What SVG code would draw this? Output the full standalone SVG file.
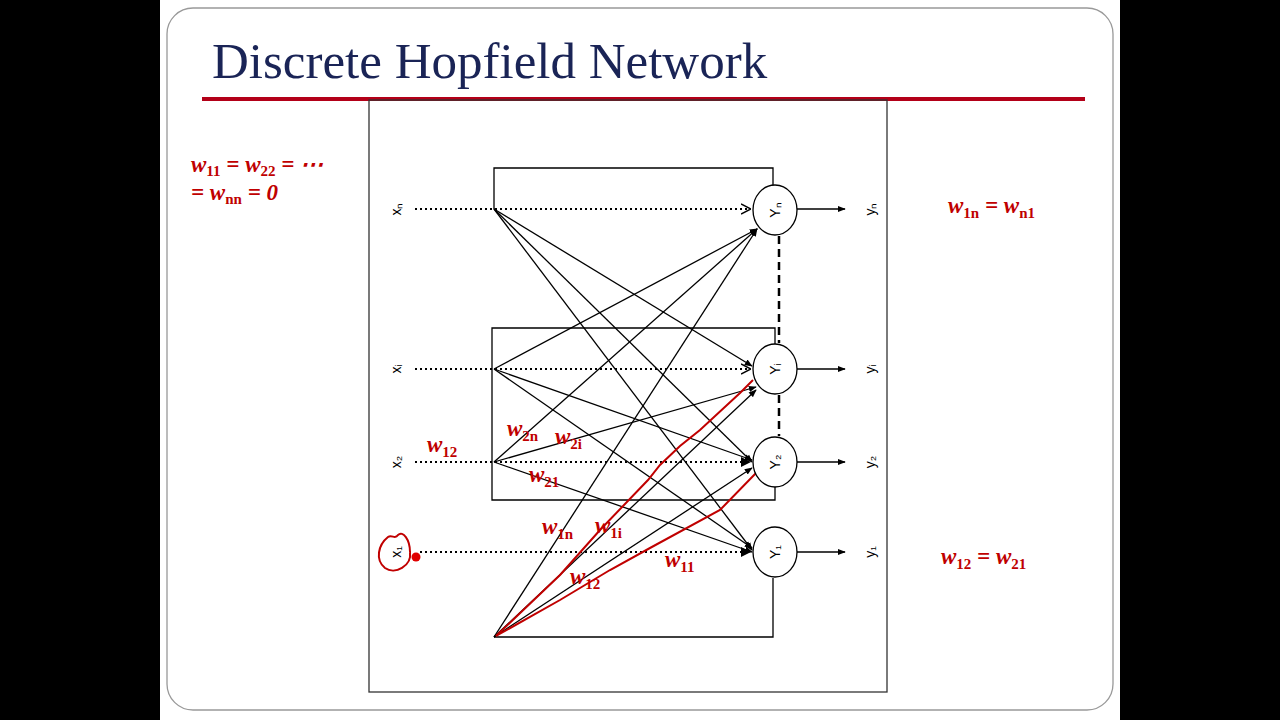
<svg xmlns="http://www.w3.org/2000/svg" width="1280" height="720" viewBox="0 0 1280 720">
<defs>
<style>
.ln{stroke:#000;stroke-width:1.3;fill:none}
.dot{stroke:#000;stroke-width:2;stroke-dasharray:2 3;fill:none}
.red{stroke:#c00000;stroke-width:2;fill:none}
.lab{font-family:"Liberation Sans",Arial,sans-serif;font-size:14px;fill:#000}
.w{font-family:"Liberation Serif",serif;font-weight:bold;font-style:italic;font-size:23px;fill:#c00000}
.s{font-size:15px;font-style:normal}
.nd{fill:#fff;stroke:#000;stroke-width:1.3}
</style>
<marker id="ar" viewBox="0 0 10 10" refX="9" refY="5" markerWidth="8" markerHeight="8" orient="auto" markerUnits="userSpaceOnUse"><path d="M0,1 L10,5 L0,9 z" fill="#000"/></marker>
<marker id="ar2" viewBox="0 0 10 10" refX="9" refY="5" markerWidth="10" markerHeight="10" orient="auto" markerUnits="userSpaceOnUse"><path d="M0,0 L10,5 L0,10 z" fill="#000"/></marker>
<marker id="op" viewBox="0 0 10 10" refX="9" refY="5" markerWidth="10" markerHeight="12" orient="auto" markerUnits="userSpaceOnUse"><path d="M0,0 L10,5 L0,10" fill="none" stroke="#000" stroke-width="1.5"/></marker>
</defs>
<rect width="1280" height="720" fill="#000"/>
<rect x="160" y="0" width="960" height="720" fill="#fff"/>
<rect x="167" y="8" width="946" height="702" rx="26" fill="#fff" stroke="#999" stroke-width="1.3"/>
<text x="212" y="78" font-family="Liberation Serif,serif" font-size="51" fill="#1a2456">Discrete Hopfield Network</text>
<line x1="202" y1="99" x2="1085" y2="99" stroke="#b30018" stroke-width="4"/>
<rect x="369" y="100" width="518" height="592" fill="none" stroke="#333" stroke-width="1.3"/>
<g id="connectors">
<path class="ln" d="M494,209 V168 H773 V186"/>
<path class="ln" d="M775,345 V328 H492 V500 H775 V486"/>
<path class="ln" d="M494,637 H773 V578"/>
<line class="dot" x1="415" y1="209" x2="750" y2="209" marker-end="url(#op)"/>
<line class="dot" x1="415" y1="369" x2="750" y2="369" marker-end="url(#op)"/>
<line class="dot" x1="415" y1="462" x2="750" y2="462" marker-end="url(#ar2)"/>
<line class="dot" x1="420" y1="552" x2="750" y2="552" marker-end="url(#ar2)"/>
<path d="M779,236 V343 M779,395 V436" stroke="#000" stroke-width="2.5" stroke-dasharray="8 5" fill="none"/>
<g class="ln">
<line x1="494" y1="209" x2="752" y2="366" marker-end="url(#ar)"/>
<line x1="494" y1="209" x2="752" y2="462" marker-end="url(#ar)"/>
<line x1="494" y1="209" x2="752" y2="550" marker-end="url(#ar)"/>
<line x1="494" y1="369" x2="757" y2="229" marker-end="url(#ar)"/>
<line x1="494" y1="369" x2="752" y2="460" marker-end="url(#ar)"/>
<line x1="494" y1="369" x2="752" y2="548" marker-end="url(#ar)"/>
<line x1="494" y1="462" x2="757" y2="229" marker-end="url(#ar)"/>
<line x1="494" y1="462" x2="756" y2="387" marker-end="url(#ar)"/>
<line x1="494" y1="462" x2="752" y2="552" marker-end="url(#ar)"/>
<line x1="494" y1="637" x2="757" y2="229" marker-end="url(#ar)"/>
<line x1="494" y1="637" x2="756" y2="390" marker-end="url(#ar)"/>
<line x1="494" y1="637" x2="752" y2="468" marker-end="url(#ar)"/>
<line x1="797" y1="209" x2="845" y2="209" marker-end="url(#ar)"/>
<line x1="797" y1="369" x2="845" y2="369" marker-end="url(#ar)"/>
<line x1="797" y1="462" x2="845" y2="462" marker-end="url(#ar)"/>
<line x1="797" y1="552" x2="845" y2="552" marker-end="url(#ar)"/>
</g>
<path class="red" d="M496,636 L560,575 L600,530 L648,480 L660,465 L680,446 L700,430 L740,393 L753,380"/>
<path class="red" d="M496,636 L560,600 L610,570 L650,548 L720,510 L757,472"/>
</g>
<g id="Yn"><ellipse class="nd" cx="775" cy="210" rx="22" ry="25"/><text class="lab" transform="translate(780,210) rotate(-90)" text-anchor="middle">Yₙ</text></g>
<g id="Yi"><ellipse class="nd" cx="775" cy="369" rx="22" ry="25"/><text class="lab" transform="translate(780,369) rotate(-90)" text-anchor="middle">Yᵢ</text></g>
<g id="Y2"><ellipse class="nd" cx="775" cy="462" rx="22" ry="25"/><text class="lab" transform="translate(780,462) rotate(-90)" text-anchor="middle">Y₂</text></g>
<g id="Y1"><ellipse class="nd" cx="775" cy="552" rx="22" ry="25"/><text class="lab" transform="translate(780,552) rotate(-90)" text-anchor="middle">Y₁</text></g>
<g id="labels">
<text class="lab" transform="translate(401,209) rotate(-90)" text-anchor="middle">xₙ</text>
<text class="lab" transform="translate(401,369) rotate(-90)" text-anchor="middle">xᵢ</text>
<text class="lab" transform="translate(401,462) rotate(-90)" text-anchor="middle">x₂</text>
<text class="lab" transform="translate(401,552) rotate(-90)" text-anchor="middle">x₁</text>
<text class="lab" transform="translate(875,209) rotate(-90)" text-anchor="middle">yₙ</text>
<text class="lab" transform="translate(875,369) rotate(-90)" text-anchor="middle">yᵢ</text>
<text class="lab" transform="translate(875,462) rotate(-90)" text-anchor="middle">y₂</text>
<text class="lab" transform="translate(875,552) rotate(-90)" text-anchor="middle">y₁</text>
</g>
<path class="red" d="M410,552 C412,566 395,575 385,568 C375,560 378,545 388,537 C392,534 395,540 398,535 C403,530 410,540 410,552"/>
<circle cx="416" cy="557" r="4.5" fill="#e00000"/>
<g id="weights">
<text class="w" x="191" y="172">w<tspan class="s" dy="4">11</tspan><tspan dy="-4"> = w</tspan><tspan class="s" dy="4">22</tspan><tspan dy="-4"> = ⋯</tspan></text>
<text class="w" x="191" y="200">= w<tspan class="s" dy="4">nn</tspan><tspan dy="-4"> = 0</tspan></text>
<text class="w" x="948" y="213">w<tspan class="s" dy="5">1n</tspan><tspan dy="-5"> = w</tspan><tspan class="s" dy="5">n1</tspan></text>
<text class="w" x="941" y="564">w<tspan class="s" dy="5">12</tspan><tspan dy="-5"> = w</tspan><tspan class="s" dy="5">21</tspan></text>
<text class="w" x="427" y="452">w<tspan class="s" dy="5">12</tspan></text>
<text class="w" x="507" y="436">w<tspan class="s" dy="5">2n</tspan></text>
<text class="w" x="555" y="444">w<tspan class="s" dy="5">2i</tspan></text>
<text class="w" x="529" y="482">w<tspan class="s" dy="5">21</tspan></text>
<text class="w" x="542" y="534">w<tspan class="s" dy="5">1n</tspan></text>
<text class="w" x="595" y="533">w<tspan class="s" dy="5">1i</tspan></text>
<text class="w" x="570" y="584">w<tspan class="s" dy="5">12</tspan></text>
<text class="w" x="665" y="567">w<tspan class="s" dy="5">11</tspan></text>
</g>
</svg>
